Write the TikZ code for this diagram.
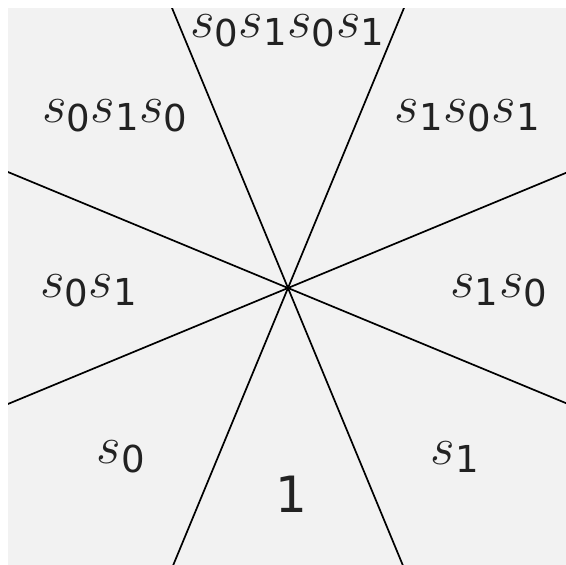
\RequirePackage{fix-cm}
\documentclass[tikz,border=0pt]{standalone}
\usepackage{amsmath}
\usepackage{fontspec}
\newfontfamily\dvfont{DejaVu Sans}
\usetikzlibrary{calc}
\definecolor{bgray}{HTML}{F2F2F2}
\definecolor{ink}{HTML}{222222}
\newcommand\dg[1]{\text{\dvfont #1}}
\tikzset{
  ray/.style={line width=1.7pt, black},
  lab/.style={anchor=base, inner sep=0pt, text=ink, font=\fontsize{53}{60}\selectfont}
}
\begin{document}
\begin{tikzpicture}[x=1pt,y=-1pt]
\useasboundingbox (0,0) rectangle (566,565);
\fill[bgray] (8,8) rectangle (566,565);
\coordinate (c) at (288,288);
\begin{scope}
  \clip (8,8) rectangle (566,565);
  \foreach \a [count=\i] in {22.5,67.5,112.5,157.5}{
    \coordinate (p\i) at ($(c)+(\a:430)$);
    \coordinate (q\i) at ($(c)+(\a+180:430)$);
    \draw[ray] (p\i) -- (q\i);
  }
\end{scope}
\node[lab, text height=24pt] (top) at (287.5,37) {$s_{\dg{0}}s_{\dg{1}}s_{\dg{0}}s_{\dg{1}}$};
\node[lab] (ul) at (115,122) {$s_{\dg{0}}s_{\dg{1}}s_{\dg{0}}$};
\node[lab] (ur) at (467.5,122) {$s_{\dg{1}}s_{\dg{0}}s_{\dg{1}}$};
\node[lab] (ml) at (89,297) {$s_{\dg{0}}s_{\dg{1}}$};
\node[lab] (mr) at (499,297) {$s_{\dg{1}}s_{\dg{0}}$};
\node[lab] (ll) at (121,463) {$s_{\dg{0}}$};
\node[lab] (lr) at (455,464) {$s_{\dg{1}}$};
\node[lab, font=\dvfont\fontsize{50}{56}\selectfont] (one) at (291,512) {1};
\end{tikzpicture}
\end{document}
